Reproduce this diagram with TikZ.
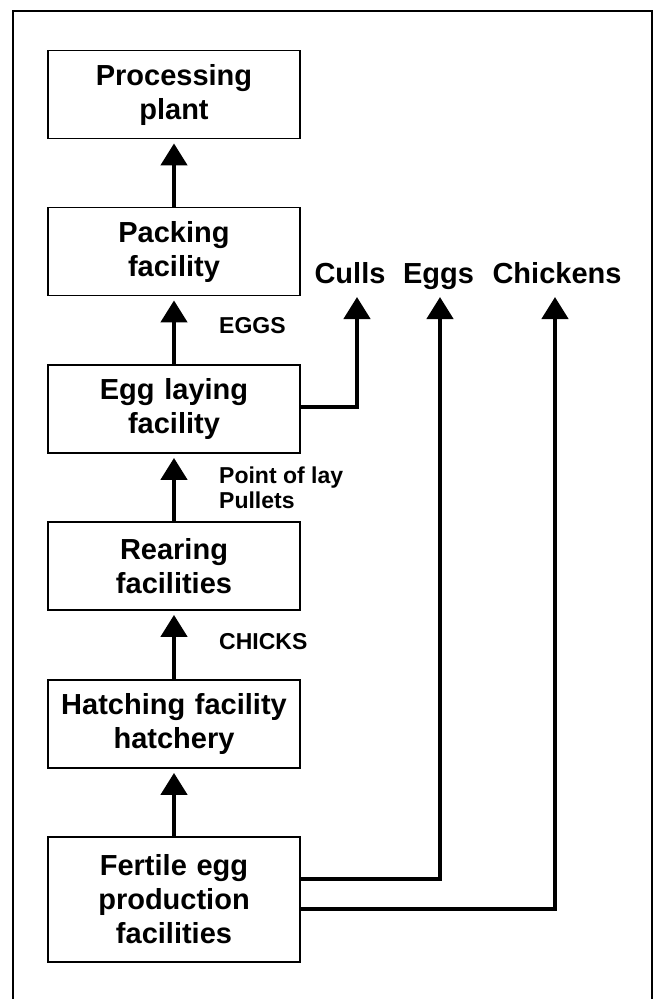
\documentclass[tikz,border=0pt]{standalone}
\usepackage{fontspec}
\setmainfont{Liberation Sans}
\usetikzlibrary{arrows.meta}
\begin{document}
\begin{tikzpicture}[x=1pt,y=-1pt,
  stagebox/.style={draw,line width=1.8pt,minimum width=252pt,minimum height=88pt,
    text width=245pt,align=center,inner sep=0pt,
    font=\bfseries\fontsize{29}{34}\selectfont},
  toplabel/.style={anchor=base,inner sep=0pt,font=\bfseries\fontsize{29}{34}\selectfont},
  flowlabel/.style={anchor=west,inner sep=0pt,align=left,
    font=\bfseries\fontsize{23}{25}\selectfont},
  flow/.style={line width=4.5pt,-{Triangle[width=26pt,length=22pt]}},
  frame/.style={line width=2.6pt}]
  \useasboundingbox (0,0) rectangle (653,999);
  % outer frame, open at the bottom
  \draw[frame] (13,1005) -- (13,11) -- (652,11) -- (652,1005);

  % production chain
  \node[stagebox] (proc)  at (174,94.5) {Processing\\plant};
  \node[stagebox] (pack)  at (174,251.5) {Packing\\facility};
  \node[stagebox] (lay)   at (174,409) {Egg laying\\facility};
  \node[stagebox] (rear)  at (174,566) {Rearing\\facilities};
  \node[stagebox] (hatch) at (174,724) {Hatching facility\\hatchery};
  \node[stagebox,minimum height=125pt] (fert) at (174,899.5) {Fertile egg\\production\\facilities};

  % outputs along the top
  \node[toplabel] (culls) at (350,283) {Culls};
  \node[toplabel] (eggs)  at (438.5,283) {Eggs};
  \node[toplabel] (chick) at (557,283) {Chickens};
  \coordinate (cullsTip) at (357,297);
  \coordinate (eggsTip)  at (440,297);
  \coordinate (chickTip) at (555,297);

  % labels on the chain
  \node[flowlabel] (lEggs)   at (219,326) {EGGS};
  \node[flowlabel] (lPoint)  at (219,488) {Point of lay\\Pullets};
  \node[flowlabel] (lChicks) at (219,642) {CHICKS};

  % connectors up the chain
  \draw[flow,shorten >=4pt] (pack.north)  -- (proc.south);
  \draw[flow,shorten >=4pt] (lay.north)   -- (pack.south);
  \draw[flow,shorten >=4pt] (rear.north)  -- (lay.south);
  \draw[flow,shorten >=4pt] (hatch.north) -- (rear.south);
  \draw[flow,shorten >=4pt] (fert.north)  -- (hatch.south);

  % side outputs
  \draw[flow] ([yshift=2pt]lay.east) -| (cullsTip);
  \draw[flow] ([yshift=20.5pt]fert.east) -| (eggsTip);
  \draw[flow] ([yshift=-9.5pt]fert.east) -| (chickTip);
\end{tikzpicture}
\end{document}
